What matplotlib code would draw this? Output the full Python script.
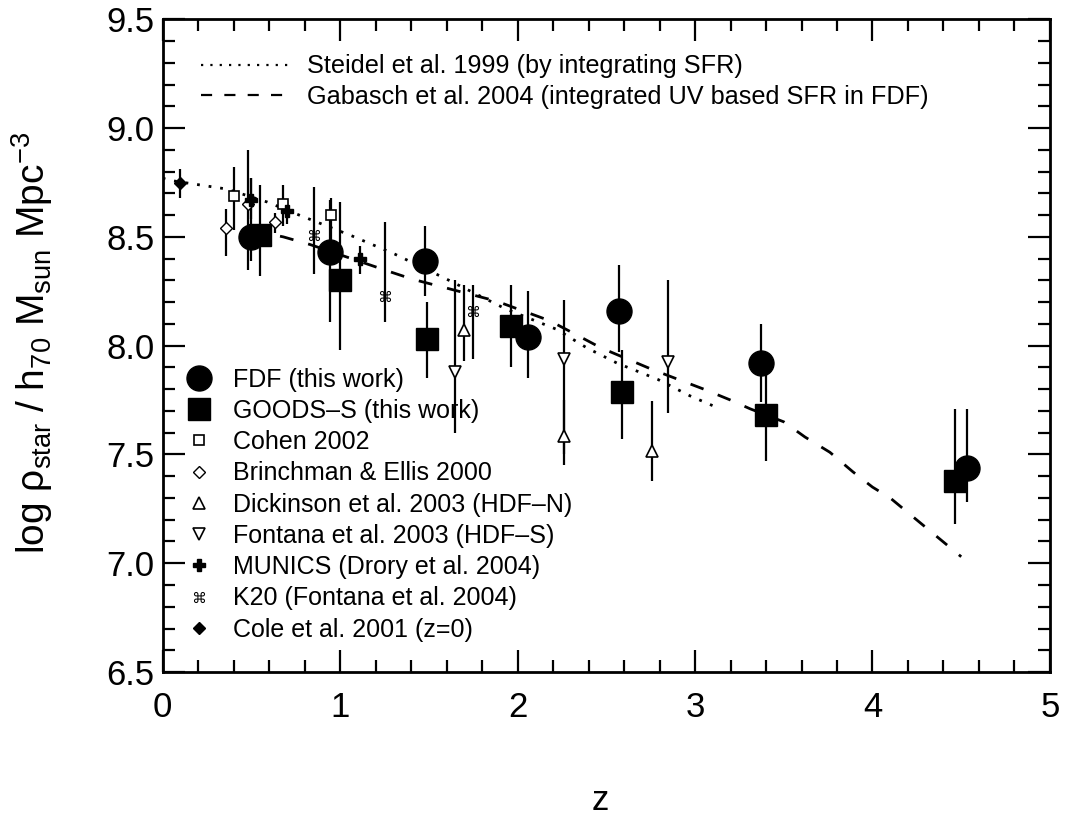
import numpy as np
import matplotlib
matplotlib.use('Agg')
import matplotlib.pyplot as plt
from matplotlib.lines import Line2D
from matplotlib.ticker import MultipleLocator, FormatStrFormatter

plt.rcParams['font.family'] = ['Liberation Sans', 'DejaVu Sans']

# FDF (this work)
fdf_z = [0.50, 0.94, 1.48, 2.06, 2.57, 3.37, 4.53]
fdf_y = [8.50, 8.43, 8.39, 8.04, 8.16, 7.92, 7.44]
fdf_hi = [8.77, 8.67, 8.55, 8.25, 8.37, 8.10, 7.71]
fdf_lo = [8.39, 8.11, 8.23, 7.85, 7.97, 7.74, 7.28]

# GOODS-S (this work)
goods_z = [0.55, 1.00, 1.49, 1.96, 2.59, 3.40, 4.465]
goods_y = [8.51, 8.30, 8.03, 8.09, 7.785, 7.68, 7.38]
goods_hi = [8.74, 8.66, 8.20, 8.28, 7.98, 7.87, 7.71]
goods_lo = [8.32, 7.98, 7.85, 7.90, 7.57, 7.47, 7.18]

# Cohen 2002
cohen_z = [0.40, 0.68, 0.95]
cohen_y = [8.69, 8.65, 8.60]
cohen_hi = [8.82, 8.74, 8.68]
cohen_lo = [8.53, 8.55, 8.47]

# Brinchman & Ellis 2000
brin_z = [0.355, 0.48, 0.63]
brin_y = [8.54, 8.65, 8.57]
brin_hi = [8.63, 8.90, 8.61]
brin_lo = [8.41, 8.35, 8.52]

# Dickinson et al. 2003 (HDF-N)
dick_z = [1.70, 2.26, 2.76]
dick_y = [8.07, 7.585, 7.515]
dick_hi = [8.28, 7.75, 7.745]
dick_lo = [7.93, 7.45, 7.38]

# Fontana et al. 2003 (HDF-S)
font_z = [1.65, 2.26, 2.85]
font_y = [7.88, 7.94, 7.925]
font_hi = [8.30, 8.21, 8.30]
font_lo = [7.60, 7.50, 7.69]

# MUNICS (Drory et al. 2004)
munics_z = [0.50, 0.70, 1.11]
munics_y = [8.67, 8.62, 8.40]
munics_hi = [8.77, 8.66, 8.46]
munics_lo = [8.58, 8.56, 8.33]

# K20 (Fontana et al. 2004)
k20_z = [0.85, 1.25, 1.75]
k20_y = [8.51, 8.23, 8.16]
k20_hi = [8.73, 8.57, 8.28]
k20_lo = [8.33, 8.11, 7.94]

# Cole et al. 2001 (z=0)
cole_z = [0.10]
cole_y = [8.75]
cole_hi = [8.81]
cole_lo = [8.68]

# Steidel et al. 1999 (integrated SFR)
steidel_z = [0.0, 0.04, 0.36, 0.59, 0.77, 1.065, 1.31, 1.59, 1.93, 2.22, 2.39, 2.56, 2.79, 2.97, 3.14]
steidel_y = [8.77, 8.76, 8.72, 8.66, 8.60, 8.505, 8.42, 8.31, 8.17, 8.075, 7.99, 7.92, 7.845, 7.77, 7.71]

# Gabasch et al. 2004
gab_z = [0.50, 0.68, 0.83, 1.28, 1.41, 1.88, 2.18, 2.32, 2.47, 2.76, 3.05, 3.20, 3.31, 3.50, 3.62, 3.76, 3.89, 4.00, 4.10, 4.50]
gab_y = [8.53, 8.50, 8.465, 8.34, 8.305, 8.205, 8.115, 8.055, 7.99, 7.89, 7.80, 7.75, 7.71, 7.65, 7.58, 7.51, 7.42, 7.35, 7.30, 7.03]

K20_MARK = '$\u2318$'
DOTTED = (0, (1, 3.2))
DASHED = (0, (5, 5.5))

fig = plt.figure(figsize=(10.67, 8.26), dpi=100)
ax = fig.add_axes([0.1525, 0.1864, 0.8315, 0.7902])

def errs(y, lo, hi):
    y = np.array(y)
    return [y - np.array(lo), np.array(hi) - y]

ebkw = dict(ls='none', ecolor='black', elinewidth=1.6, capsize=0)

# comparison data first, so own points sit on top
ax.errorbar(cole_z, cole_y, yerr=errs(cole_y, cole_lo, cole_hi), marker='D', ms=6,
            mfc='black', mec='black', **ebkw)
ax.errorbar(cohen_z, cohen_y, yerr=errs(cohen_y, cohen_lo, cohen_hi), marker='s', ms=7,
            mfc='white', mec='black', mew=1.2, **ebkw)
ax.errorbar(brin_z, brin_y, yerr=errs(brin_y, brin_lo, brin_hi), marker='D', ms=6.5,
            mfc='white', mec='black', mew=1.0, **ebkw)
ax.errorbar(dick_z, dick_y, yerr=errs(dick_y, dick_lo, dick_hi), marker='^', ms=9,
            mfc='white', mec='black', mew=1.2, **ebkw)
ax.errorbar(font_z, font_y, yerr=errs(font_y, font_lo, font_hi), marker='v', ms=9,
            mfc='white', mec='black', mew=1.2, **ebkw)
ax.errorbar(munics_z, munics_y, yerr=errs(munics_y, munics_lo, munics_hi), marker='P', ms=9,
            mfc='black', mec='black', **ebkw)
ax.errorbar(k20_z, k20_y, yerr=errs(k20_y, k20_lo, k20_hi), marker=K20_MARK, ms=8,
            mfc='black', mec='black', mew=0, **ebkw)

ax.plot(steidel_z, steidel_y, color='black', ls=DOTTED, lw=2.0)
ax.plot(gab_z, gab_y, color='black', ls=DASHED, lw=2.0)

ax.errorbar(goods_z, goods_y, yerr=errs(goods_y, goods_lo, goods_hi), marker='s', ms=16,
            mfc='black', mec='black', **ebkw)
ax.errorbar(fdf_z, fdf_y, yerr=errs(fdf_y, fdf_lo, fdf_hi), marker='o', ms=18,
            mfc='black', mec='black', **ebkw)

ax.set_xlim(0, 5)
ax.set_ylim(6.5, 9.5)
ax.xaxis.set_major_locator(MultipleLocator(1))
ax.xaxis.set_minor_locator(MultipleLocator(0.2))
ax.yaxis.set_major_locator(MultipleLocator(0.5))
ax.yaxis.set_minor_locator(MultipleLocator(0.1))
ax.yaxis.set_major_formatter(FormatStrFormatter('%.1f'))
ax.tick_params(which='both', direction='in', top=True, right=True, width=1.6, labelsize=25)
ax.tick_params(which='major', length=16)
ax.tick_params(which='minor', length=8.5)
ax.tick_params(axis='y', pad=6)
ax.tick_params(axis='x', pad=14)
for s in ax.spines.values():
    s.set_linewidth(2.0)

ax.set_xlabel('z', fontsize=25)
ax.xaxis.set_label_coords(0.493, -0.172)
ax.set_ylabel(r'log $\mathregular{\rho_{star}}$ / h$\mathregular{_{70}}$ M$\mathregular{_{sun}}$ Mpc$\mathregular{^{-3}}$',
              fontsize=28)
ax.yaxis.set_label_coords(-0.121, 0.505)

# line legend
line_handles = [Line2D([], [], color='black', ls=DOTTED, lw=1.6),
                Line2D([], [], color='black', ls=DASHED, lw=1.6)]
line_labels = ['Steidel et al. 1999 (by integrating SFR)',
               'Gabasch et al. 2004 (integrated UV based SFR in FDF)']
leg1 = ax.legend(line_handles, line_labels, loc='upper left', bbox_to_anchor=(0.017, 0.981),
                 frameon=False, fontsize=18.2, handlelength=3.55, handletextpad=0.65,
                 labelspacing=0.25)
ax.add_artist(leg1)

# symbol legend
sym_handles = [
    Line2D([], [], ls='none', marker='o', ms=18, mfc='black', mec='black'),
    Line2D([], [], ls='none', marker='s', ms=16, mfc='black', mec='black'),
    Line2D([], [], ls='none', marker='s', ms=7, mfc='white', mec='black', mew=1.2),
    Line2D([], [], ls='none', marker='D', ms=6.5, mfc='white', mec='black', mew=1.0),
    Line2D([], [], ls='none', marker='^', ms=9, mfc='white', mec='black', mew=1.2),
    Line2D([], [], ls='none', marker='v', ms=9, mfc='white', mec='black', mew=1.2),
    Line2D([], [], ls='none', marker='P', ms=9, mfc='black', mec='black'),
    Line2D([], [], ls='none', marker=K20_MARK, ms=8, mfc='black', mec='black', mew=0),
    Line2D([], [], ls='none', marker='D', ms=6, mfc='black', mec='black'),
]
sym_labels = ['FDF (this work)', 'GOODS\u2013S (this work)', 'Cohen 2002',
              'Brinchman & Ellis 2000', 'Dickinson et al. 2003 (HDF\u2013N)',
              'Fontana et al. 2003 (HDF\u2013S)', 'MUNICS (Drory et al. 2004)',
              'K20 (Fontana et al. 2004)', 'Cole et al. 2001 (z=0)']
ax.legend(sym_handles, sym_labels, loc='lower left', bbox_to_anchor=(0.001, 0.012),
          frameon=False, fontsize=18, handlelength=1.0, handletextpad=0.89,
          labelspacing=0.29, numpoints=1)

fig.savefig('out.png', dpi=100)
